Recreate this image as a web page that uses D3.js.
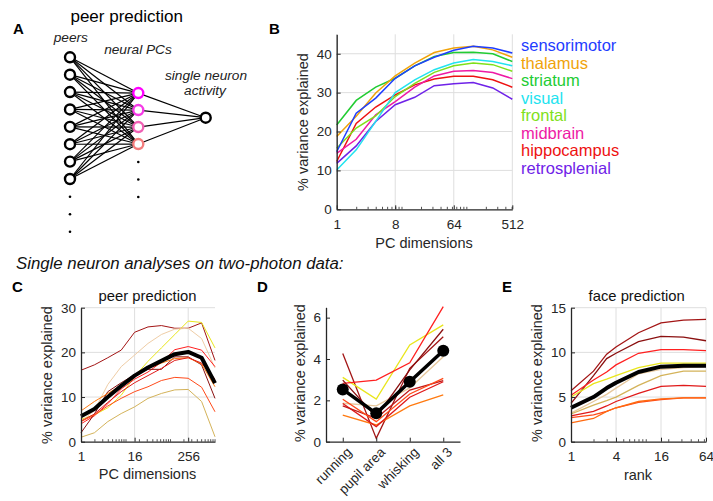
<!DOCTYPE html>
<html><head><meta charset="utf-8">
<script src="https://cdn.jsdelivr.net/npm/d3@7"></script>
<style>
body{margin:0;background:#fff;}
svg{display:block;font-family:"Liberation Sans",Arial,Helvetica,sans-serif;}
</style></head><body>
<svg id="fig" width="713" height="501"></svg>
<script>
// ---------- Panel B data ----------
const bDims = [1, 2, 4, 8, 16, 32, 64, 128, 256, 512];
const bAreas = ["sensorimotor", "thalamus", "striatum", "visual", "frontal", "midbrain", "hippocampus", "retrosplenial"];
const bColors = ["#1f3dff", "#f0a30a", "#22cc33", "#22e3ef", "#7fe01a", "#ee1aa5", "#ee1111", "#6f22e8"];
const bSensorimotor = [14.8, 24.7, 28.6, 33.7, 36.9, 39.1, 40.9, 41.9, 41.5, 40.2];
const bThalamus     = [18.7, 23.9, 29.9, 34.3, 37.6, 40.3, 41.5, 41.9, 41.0, 39.1];
const bStriatum     = [21.7, 28.0, 31.4, 33.7, 36.9, 39.3, 40.3, 40.4, 40.0, 38.0];
const bVisual       = [10.1, 15.3, 22.6, 30.0, 33.3, 35.9, 37.6, 38.5, 38.0, 36.9];
const bFrontal      = [15.7, 20.9, 24.0, 29.0, 32.4, 35.2, 36.9, 37.6, 37.2, 35.5];
const bMidbrain     = [14.4, 18.0, 24.3, 27.7, 31.4, 34.3, 35.5, 35.7, 35.2, 33.6];
const bHippocampus  = [12.3, 22.1, 26.3, 29.4, 32.0, 33.5, 34.2, 34.2, 33.3, 31.4];
const bRetrosplenial= [11.8, 16.3, 22.6, 26.9, 28.8, 31.8, 32.3, 32.6, 31.2, 28.3];
const bTicksX = [1, 8, 64, 512];
const bTicksY = [0, 10, 20, 30, 40];

// ---------- Recording colours (panels C-E) ----------
const recColors = ["#a31515", "#e9e61c", "#efcda6", "#ff2020", "#8b1010", "#ff7a10", "#e01a1a", "#ff4a1a", "#d4b35a"];

// ---------- Panel C data ----------
const cDims = [1, 2, 4, 8, 16, 32, 64, 128, 256, 512, 1024];
const cMean = [5.7, 7.3, 10.0, 12.5, 14.8, 16.6, 18.1, 19.6, 20.1, 18.8, 13.1];
const cRec1 = [16.0, 17.2, 18.8, 20.5, 24.5, 25.7, 26.0, 25.4, 25.4, 26.6, 18.2];
const cRec2 = [5.0, 6.0, 7.6, 10.4, 14.6, 18.0, 21.0, 24.0, 27.0, 26.7, 21.0];
const cRec3 = [4.5, 7.0, 12.8, 16.8, 19.4, 22.0, 24.0, 25.2, 25.4, 23.1, 16.5];
const cRec4 = [4.0, 5.8, 8.5, 11.8, 14.0, 15.6, 17.8, 20.6, 21.3, 20.5, 16.8];
const cRec5 = [2.0, 6.2, 11.2, 13.2, 15.0, 16.2, 16.2, 19.0, 19.0, 17.2, 9.7];
const cRec6 = [6.9, 9.0, 10.8, 12.6, 14.6, 16.4, 17.6, 18.6, 18.8, 17.4, 12.3];
const cRec7 = [4.6, 6.2, 8.8, 11.2, 13.2, 14.8, 16.4, 18.2, 18.8, 17.6, 14.0];
const cRec8 = [4.5, 6.0, 8.0, 9.7, 11.2, 12.3, 13.7, 14.4, 14.2, 12.2, 6.7];
const cRec9 = [1.0, 2.0, 4.5, 6.3, 7.8, 9.7, 10.8, 11.6, 11.7, 9.0, 1.1];
const cTicksX = [1, 16, 256];
const cTicksY = [0, 10, 20, 30];

// ---------- Panel D data ----------
const dCats = ["running", "pupil area", "whisking", "all 3"];
const dMean = [2.53, 1.37, 2.90, 4.40];
const dRec1 = [4.27, 0.16, 3.55, 5.08];
const dRec2 = [3.11, 2.06, 4.68, 5.65];
const dRec3 = [1.86, 1.73, 2.60, 4.11];
const dRec4 = [2.82, 2.98, 3.82, 6.53];
const dRec5 = [2.98, 1.20, 3.47, 5.44];
const dRec6 = [1.29, 0.81, 1.73, 2.26];
const dRec7 = [1.85, 0.73, 2.15, 2.90];
const dRec8 = [1.73, 1.13, 2.50, 2.95];
const dRec9 = [2.05, 0.97, 2.31, 3.06];
const dColors = ["#a31515", "#e9e61c", "#e6c79c", "#ff2020", "#8b1010", "#ff7a10", "#e01a1a", "#c01818", "#ff4a1a"];
const dTicksY = [0, 2, 4, 6];

// ---------- Panel E data ----------
const eRanks = [1, 2, 3, 4, 8, 16, 32, 64];
const eMean = [3.8, 5.0, 6.0, 6.6, 7.8, 8.4, 8.5, 8.5];
const eRec1 = [5.7, 7.9, 9.8, 10.6, 12.2, 13.3, 13.6, 13.7];
const eRec2 = [4.3, 7.4, 9.3, 9.9, 11.2, 11.8, 11.7, 11.3];
const eRec3 = [5.2, 6.9, 7.8, 8.6, 9.9, 10.3, 10.3, 10.2];
const eRec4 = [5.0, 6.5, 7.0, 7.4, 8.3, 8.8, 8.8, 8.8];
const eRec5 = [3.2, 4.5, 5.3, 6.0, 7.6, 8.1, 8.3, 8.4];
const eRec6 = [3.1, 4.1, 4.6, 5.0, 6.3, 7.4, 7.9, 7.9];
const eRec7 = [2.9, 3.4, 4.0, 4.5, 5.4, 6.2, 6.3, 6.2];
const eRec8 = [2.7, 3.0, 3.4, 3.8, 4.4, 4.7, 4.9, 4.9];
const eRec9 = [2.1, 2.6, 3.4, 3.8, 4.5, 4.8, 4.9, 4.9];
const eColors = ["#a31515", "#8b1010", "#ff2020", "#e9e61c", "#e6c79c", "#d4b35a", "#e01a1a", "#ff4a1a", "#ff6a10"];
const eTicksX = [1, 4, 16, 64];
const eTicksY = [0, 5, 10, 15];

// ---------- Panel A (diagram) ----------
const nPeers = 8, nPCs = 4;
const pcColors = ["#ff00ff", "#f53be6", "#f060b4", "#f47c7c"];

// ==========================================================
const svg = d3.select("#fig");
const TXT = "#262626";
const GRID = "#dedede";
const FT = 13.5;

function minorLog(domain) {
  const out = [];
  for (let e = 0; e < 5; e++) for (let m = 2; m < 10; m++) {
    const v = m * Math.pow(10, e);
    if (v > domain[0] && v < domain[1]) out.push(v);
  }
  for (let e = 1; e < 5; e++) { const v = Math.pow(10, e); if (v > domain[0] && v < domain[1]) out.push(v); }
  return out;
}

function axes(g, x, y, o) {
  const [y0, y1] = y.range();
  const [x0, x1] = x.range();
  if (o.gridX) g.append("g").selectAll("line").data(o.gridX).join("line")
    .attr("x1", d => x(d)).attr("x2", d => x(d)).attr("y1", y0).attr("y2", y1)
    .attr("stroke", GRID).attr("stroke-width", 1);
  if (o.gridY) g.append("g").selectAll("line").data(o.gridY).join("line")
    .attr("x1", x0).attr("x2", x1).attr("y1", d => y(d)).attr("y2", d => y(d))
    .attr("stroke", GRID).attr("stroke-width", 1);
}

function drawAxisLines(g, x, y, o) {
  const [y0] = y.range();
  const [x0] = x.range();
  if (o.minor) {
    g.append("g").attr("transform", `translate(0,${y0})`)
      .call(d3.axisBottom(x).tickValues(o.minor).tickSizeInner(-2.5).tickSizeOuter(0).tickFormat(""))
      .call(s => s.select(".domain").remove())
      .call(s => s.selectAll("line").attr("stroke", TXT).attr("stroke-width", 0.8));
  }
  const xa = d3.axisBottom(x).tickValues(o.ticksX).tickSizeInner(-4).tickSizeOuter(0).tickPadding(10);
  xa.tickFormat(o.fmtX || d3.format("d"));
  const gx = g.append("g").attr("transform", `translate(0,${y0})`).call(xa);
  gx.select(".domain").attr("stroke", TXT).attr("stroke-width", 1.3);
  gx.selectAll("line").attr("stroke", TXT);
  gx.selectAll("text").attr("fill", TXT).attr("font-size", FT).attr("font-family", "Liberation Sans, Arial, sans-serif");
  const gy = g.append("g").attr("transform", `translate(${x0},0)`)
    .call(d3.axisLeft(y).tickValues(o.ticksY).tickFormat(d3.format("d")).tickSizeInner(-4).tickSizeOuter(0).tickPadding(5));
  gy.select(".domain").attr("stroke", TXT).attr("stroke-width", 1.3);
  gy.selectAll("line").attr("stroke", TXT);
  gy.selectAll("text").attr("fill", TXT).attr("font-size", FT).attr("font-family", "Liberation Sans, Arial, sans-serif");
  return gx;
}

function label(txt, x, y, size, opts = {}) {
  const t = svg.append("text").attr("x", x).attr("y", y).attr("dy", "0.35em")
    .attr("font-size", size).attr("fill", opts.fill || TXT)
    .attr("text-anchor", opts.anchor || "middle").text(txt);
  if (opts.italic) t.attr("font-style", "italic");
  if (opts.bold) t.attr("font-weight", "bold");
  if (opts.rotate) t.attr("transform", `rotate(-90,${x},${y})`);
  return t;
}

// ---------------- Panel A ----------------
(function () {
  const g = svg.append("g");
  const lx = d3.scaleLinear().domain([0, 2]).range([70, 205.7]);
  const pcX = 138.3;
  const ny = d3.scaleLinear().domain([0, 7]).range([57.3, 179]);
  const peers = d3.range(nPeers).map(i => ({ x: lx(0), y: ny(i) }));
  const pcs = d3.range(nPCs).map(i => ({ x: pcX, y: ny(i + 2) + 1.0 - i * 0.4, c: pcColors[i] }));
  const out = { x: lx(2), y: 117.7 };
  const links = [];
  peers.forEach(p => pcs.forEach(q => links.push([p, q])));
  pcs.forEach(q => links.push([q, out]));
  g.selectAll("line.l").data(links).join("line")
    .attr("x1", d => d[0].x).attr("y1", d => d[0].y).attr("x2", d => d[1].x).attr("y2", d => d[1].y)
    .attr("stroke", "#000").attr("stroke-width", 1.2);
  g.selectAll("circle.p").data(peers).join("circle").attr("cx", d => d.x).attr("cy", d => d.y).attr("r", 5)
    .attr("fill", "#fff").attr("stroke", "#000").attr("stroke-width", 2.4);
  g.selectAll("circle.q").data(pcs).join("circle").attr("cx", d => d.x).attr("cy", d => d.y).attr("r", 5)
    .attr("fill", "#fff").attr("stroke", d => d.c).attr("stroke-width", 2.4);
  g.append("circle").attr("cx", out.x).attr("cy", out.y).attr("r", 5)
    .attr("fill", "#fff").attr("stroke", "#000").attr("stroke-width", 2.4);
  const dotY = d3.scaleLinear().domain([0, 1]).range([0, 17.5]);
  [0, 1, 2].forEach(i => {
    g.append("circle").attr("cx", lx(0)).attr("cy", 196.7 + dotY(i)).attr("r", 1.3).attr("fill", "#000");
    g.append("circle").attr("cx", pcX).attr("cy", 162 + dotY(i)).attr("r", 1.3).attr("fill", "#000");
  });
  label("A", 13, 29, 15, { bold: true, anchor: "start", fill: "#000" });
  label("peer prediction", 126.7, 16, 17, { fill: "#000" });
  label("peers", 70.8, 37.7, 13.7, { italic: true, fill: "#222" });
  label("neural PCs", 138, 49.3, 13.7, { italic: true, fill: "#222" });
  label("single neuron", 206, 75, 13.7, { italic: true, fill: "#222" });
  label("activity", 205, 90.7, 13.7, { italic: true, fill: "#222" });
})();

// ---------------- Panel B ----------------
(function () {
  const g = svg.append("g");
  const x = d3.scaleLog().base(2).domain([1, 512]).range([336.7, 512.3]);
  const y = d3.scaleLinear().domain([0, 45]).range([209.3, 34.3]);
  axes(g, x, y, { gridX: [1, 8, 64, 512], gridY: [10, 20, 30, 40] });
  const series = [bSensorimotor, bThalamus, bStriatum, bVisual, bFrontal, bMidbrain, bHippocampus, bRetrosplenial];
  const line = d3.line().x((d, i) => x(bDims[i])).y(d => y(d));
  series.map((s, i) => ({ s, i })).reverse().forEach(({ s, i }) => {
    g.append("path").attr("d", line(s)).attr("fill", "none").attr("stroke", bColors[i]).attr("stroke-width", 1.5);
  });
  drawAxisLines(g, x, y, { ticksX: bTicksX, ticksY: bTicksY, minor: minorLog([1, 512]) });
  bAreas.forEach((a, i) => label(a, 521, 45.7 + i * 17.5, 16.5, { anchor: "start", fill: bColors[i] }));
  label("B", 269, 29, 15, { bold: true, anchor: "start", fill: "#000" });
  label("% variance explained", 303.3, 122, 14.5, { rotate: true });
  label("PC dimensions", 424, 242.7, 14.5);
})();

label("Single neuron analyses on two-photon data:", 16, 263, 16.8, { italic: true, anchor: "start", fill: "#111" });

// ---------------- Panel C ----------------
(function () {
  const g = svg.append("g");
  const x = d3.scaleLog().base(2).domain([1, 1024]).range([81, 215]);
  const y = d3.scaleLinear().domain([0, 30]).range([441.7, 307.7]);
  axes(g, x, y, { gridX: [16, 256], gridY: [10, 20, 30] });
  const line = d3.line().x((d, i) => x(cDims[i])).y(d => y(d));
  [cRec1, cRec2, cRec3, cRec4, cRec5, cRec6, cRec7, cRec8, cRec9].forEach((s, i) => {
    g.append("path").attr("d", line(s)).attr("fill", "none").attr("stroke", recColors[i]).attr("stroke-width", 1);
  });
  g.append("path").attr("d", line(cMean)).attr("fill", "none").attr("stroke", "#000").attr("stroke-width", 4).attr("stroke-linejoin", "round");
  drawAxisLines(g, x, y, { ticksX: cTicksX, ticksY: cTicksY, minor: minorLog([1, 1024]) });
  label("C", 12, 286.7, 15, { bold: true, anchor: "start", fill: "#000" });
  label("peer prediction", 147.5, 296, 14.8, { fill: "#111" });
  label("% variance explained", 46.7, 375, 14.5, { rotate: true });
  label("PC dimensions", 147.5, 474, 14.5);
})();

// ---------------- Panel D ----------------
(function () {
  const g = svg.append("g");
  const x = d3.scaleLinear().domain([0.5, 4.5]).range([326, 460]);
  const y = d3.scaleLinear().domain([0, 6.5]).range([441.7, 307.3]);
  const line = d3.line().x((d, i) => x(i + 1)).y(d => y(d));
  [dRec1, dRec2, dRec3, dRec4, dRec5, dRec6, dRec7, dRec8, dRec9].forEach((s, i) => {
    g.append("path").attr("d", line(s)).attr("fill", "none").attr("stroke", dColors[i]).attr("stroke-width", 1.3);
  });
  g.append("path").attr("d", line(dMean)).attr("fill", "none").attr("stroke", "#000").attr("stroke-width", 3.5);
  g.selectAll("circle.m").data(dMean).join("circle").attr("cx", (d, i) => x(i + 1)).attr("cy", d => y(d)).attr("r", 6).attr("fill", "#000");
  const gx = drawAxisLines(g, x, y, { ticksX: [1, 2, 3, 4], ticksY: dTicksY, fmtX: (d) => dCats[d - 1] });
  gx.selectAll("text").attr("text-anchor", "end").attr("dy", "0.35em")
    .attr("transform", "translate(6,8) rotate(-45)").attr("y", 0).attr("x", 0);
  label("D", 257, 286.7, 15, { bold: true, anchor: "start", fill: "#000" });
  label("% variance explained", 300, 373, 14.5, { rotate: true });
})();

// ---------------- Panel E ----------------
(function () {
  const g = svg.append("g");
  const x = d3.scaleLog().base(2).domain([1, 64]).range([571, 706]);
  const y = d3.scaleLinear().domain([0, 15]).range([441.7, 307.7]);
  axes(g, x, y, { gridX: [4, 16, 64], gridY: [5, 10, 15] });
  const line = d3.line().x((d, i) => x(eRanks[i])).y(d => y(d));
  [eRec1, eRec2, eRec3, eRec4, eRec5, eRec6, eRec7, eRec8, eRec9].forEach((s, i) => {
    g.append("path").attr("d", line(s)).attr("fill", "none").attr("stroke", eColors[i]).attr("stroke-width", 1.3);
  });
  g.append("path").attr("d", line(eMean)).attr("fill", "none").attr("stroke", "#000").attr("stroke-width", 4).attr("stroke-linejoin", "round");
  drawAxisLines(g, x, y, { ticksX: eTicksX, ticksY: eTicksY, minor: minorLog([1, 64]) });
  label("E", 502, 287, 15, { bold: true, anchor: "start", fill: "#000" });
  label("face prediction", 636.7, 296, 14.8, { fill: "#111" });
  label("% variance explained", 536.7, 373, 14.5, { rotate: true });
  label("rank", 638, 475, 14.5);
})();
</script>
</body></html>
